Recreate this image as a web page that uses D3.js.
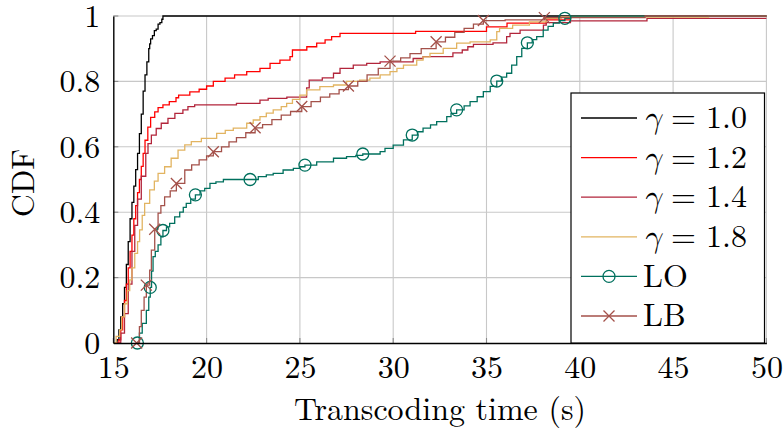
<!DOCTYPE html>
<html>
<head>
<meta charset="utf-8">
<script src="https://cdn.jsdelivr.net/npm/d3@7"></script>
<style>
  html, body { margin: 0; padding: 0; background: #fff; }
  svg { display: block; }
</style>
</head>
<body>
<svg id="chart" width="784" height="432"></svg>
<script>
// Empirical CDFs of transcoding time, as step breakpoints (time in s, cumulative share)
const g10Time = [15.1, 15.2, 15.3, 15.4, 15.5, 15.6, 15.7, 15.8, 15.9, 16.0, 16.1, 16.2, 16.3, 16.4, 16.5, 16.6, 16.7, 16.8, 16.9, 16.95, 17.0, 17.1, 17.2, 17.3, 17.4, 17.5, 17.6, 17.66];
const g10Cdf  = [0, 0.01, 0.04, 0.08, 0.12, 0.17, 0.24, 0.31, 0.38, 0.43, 0.48, 0.53, 0.58, 0.64, 0.7, 0.77, 0.82, 0.86, 0.9, 0.915, 0.93, 0.94, 0.955, 0.96, 0.975, 0.98, 0.99, 1.0];

const g12Time = [15.15, 15.3, 15.4, 15.5, 15.6, 15.7, 15.8, 15.9, 16.0, 16.1, 16.2, 16.3, 16.4, 16.5, 16.6, 16.7, 16.85, 17.0, 17.22, 17.4, 17.66, 18.0, 18.36, 18.5, 19.1, 19.6, 20.0, 20.36, 20.99, 21.5, 22.15, 22.86, 23.4, 23.93, 24.47, 24.6, 25.37, 25.9, 26.35, 26.7, 27.15, 31.2, 35.0, 36.1, 38.2, 39.5];
const g12Cdf  = [0, 0.01, 0.04, 0.08, 0.13, 0.18, 0.23, 0.28, 0.33, 0.38, 0.42, 0.46, 0.5, 0.54, 0.58, 0.62, 0.66, 0.69, 0.707, 0.72, 0.728, 0.738, 0.75, 0.758, 0.768, 0.776, 0.786, 0.8, 0.81, 0.82, 0.83, 0.84, 0.855, 0.865, 0.876, 0.896, 0.906, 0.917, 0.927, 0.937, 0.947, 0.953, 0.967, 0.978, 0.988, 1.0];

const g14Time = [15.2, 15.4, 15.6, 15.8, 16.0, 16.15, 16.3, 16.5, 16.74, 16.86, 17.04, 17.3, 17.57, 17.93, 18.3, 18.73, 19.0, 19.36, 21.6, 22.86, 23.3, 24.3, 25.36, 25.5, 26.2, 26.8, 27.15, 27.86, 28.58, 29.3, 31.07, 31.6, 33.2, 33.7, 34.0, 34.3, 35.35, 36.08, 36.26, 36.8, 38.05, 38.2, 39.5, 43.6];
const g14Cdf  = [0, 0.03, 0.09, 0.18, 0.28, 0.36, 0.44, 0.51, 0.58, 0.61, 0.636, 0.656, 0.672, 0.687, 0.702, 0.713, 0.723, 0.728, 0.733, 0.743, 0.748, 0.752, 0.78, 0.804, 0.811, 0.825, 0.84, 0.85, 0.855, 0.86, 0.87, 0.876, 0.887, 0.896, 0.906, 0.913, 0.918, 0.937, 0.947, 0.957, 0.972, 0.98, 0.985, 0.993];

const g18Time = [15.0, 15.15, 15.34, 15.45, 15.6, 15.75, 15.88, 16.0, 16.15, 16.3, 16.41, 16.55, 16.68, 16.95, 17.2, 17.4, 17.75, 18.1, 18.47, 18.83, 19.18, 19.72, 20.54, 21.0, 21.43, 22.15, 22.5, 22.86, 23.2, 23.57, 24.0, 24.29, 24.6, 25.0, 25.36, 26.07, 26.8, 27.5, 28.2, 28.75, 29.3, 29.83, 30.2, 30.55, 31.26, 31.6, 31.97, 32.68, 33.4, 34.12, 35.2, 35.55, 35.7, 36.4, 37.3, 38.2, 39.0, 46.9];
const g18Cdf  = [0, 0.02, 0.04, 0.08, 0.12, 0.16, 0.193, 0.23, 0.274, 0.31, 0.346, 0.39, 0.427, 0.468, 0.495, 0.519, 0.539, 0.565, 0.59, 0.606, 0.616, 0.626, 0.641, 0.65, 0.657, 0.672, 0.682, 0.692, 0.703, 0.713, 0.723, 0.733, 0.745, 0.758, 0.774, 0.784, 0.789, 0.8, 0.804, 0.81, 0.82, 0.83, 0.84, 0.85, 0.865, 0.875, 0.886, 0.901, 0.917, 0.921, 0.927, 0.952, 0.962, 0.972, 0.982, 0.993, 0.997, 1.0];

const loTime = [16.3, 16.4, 16.55, 16.77, 16.9, 16.98, 17.05, 17.13, 17.25, 17.4, 17.55, 17.66, 17.85, 18.02, 18.29, 18.56, 18.75, 18.91, 19.15, 19.4, 19.65, 19.9, 20.18, 20.5, 20.9, 22.77, 23.2, 23.57, 24.1, 24.65, 25.0, 25.27, 25.9, 26.8, 27.5, 28.0, 28.37, 29.3, 29.56, 30.0, 30.55, 31.02, 31.3, 31.6, 32.0, 32.33, 32.87, 33.1, 33.4, 33.8, 34.12, 34.5, 34.83, 35.2, 35.55, 35.8, 36.08, 36.35, 36.62, 36.89, 37.19, 37.45, 37.69, 38.04, 38.3, 38.58, 38.9, 39.2, 39.5];
const loCdf  = [0, 0.03, 0.06, 0.1, 0.14, 0.17, 0.22, 0.264, 0.28, 0.3, 0.325, 0.344, 0.355, 0.366, 0.386, 0.4, 0.415, 0.427, 0.44, 0.453, 0.465, 0.473, 0.488, 0.493, 0.5, 0.509, 0.514, 0.519, 0.529, 0.534, 0.539, 0.544, 0.554, 0.565, 0.57, 0.574, 0.578, 0.585, 0.595, 0.605, 0.621, 0.636, 0.646, 0.657, 0.667, 0.677, 0.692, 0.702, 0.713, 0.725, 0.738, 0.753, 0.769, 0.785, 0.801, 0.813, 0.825, 0.85, 0.876, 0.901, 0.918, 0.928, 0.937, 0.957, 0.968, 0.978, 0.986, 0.993, 1.0];
const loMarkTime = [16.29, 16.98, 17.66, 19.4, 22.33, 25.27, 28.37, 31.02, 33.4, 35.55, 37.19, 39.2];
const loMarkCdf  = [0, 0.17, 0.344, 0.453, 0.5, 0.544, 0.578, 0.636, 0.713, 0.801, 0.918, 0.993];

const lbTime = [16.25, 16.4, 16.5, 16.65, 16.77, 16.95, 17.04, 17.22, 17.4, 17.55, 17.75, 18.05, 18.38, 18.83, 19.2, 19.6, 20.0, 20.36, 20.8, 21.2, 21.6, 22.1, 22.6, 23.0, 23.5, 24.0, 24.5, 25.1, 25.6, 26.1, 26.6, 27.1, 27.6, 28.1, 28.6, 29.2, 29.83, 30.4, 30.9, 31.5, 32.3, 32.8, 33.3, 33.8, 34.3, 34.83, 36.0, 38.1, 43.5];
const lbCdf  = [0, 0.05, 0.1, 0.14, 0.177, 0.223, 0.284, 0.348, 0.397, 0.42, 0.447, 0.465, 0.488, 0.529, 0.545, 0.56, 0.572, 0.585, 0.6, 0.615, 0.628, 0.643, 0.658, 0.668, 0.683, 0.697, 0.708, 0.723, 0.738, 0.752, 0.762, 0.775, 0.786, 0.8, 0.82, 0.84, 0.862, 0.872, 0.885, 0.9, 0.921, 0.935, 0.95, 0.962, 0.975, 0.986, 0.988, 0.995, 1.0];
const lbMarkTime = [16.25, 16.77, 17.22, 18.38, 20.36, 22.6, 25.1, 27.6, 29.83, 32.3, 34.83, 38.1];
const lbMarkCdf  = [0, 0.177, 0.348, 0.488, 0.585, 0.658, 0.723, 0.786, 0.862, 0.921, 0.986, 0.995];

const xTicks = [15, 20, 25, 30, 35, 40, 45, 50];
const yTicks = [0, 0.2, 0.4, 0.6, 0.8, 1];
const yTickLabels = ["0", "0.2", "0.4", "0.6", "0.8", "1"];

// Series table built from the arrays above
const series = [
  { name: "1.0", gamma: true, t: g10Time, c: g10Cdf, color: "#000000" },
  { name: "1.2", gamma: true, t: g12Time, c: g12Cdf, color: "#ff0000" },
  { name: "1.4", gamma: true, t: g14Time, c: g14Cdf, color: "#b2253b" },
  { name: "1.8", gamma: true, t: g18Time, c: g18Cdf, color: "#e2b461" },
  { name: "LO", gamma: false, t: loTime, c: loCdf, color: "#00705e", mark: "circle", mt: loMarkTime, mc: loMarkCdf },
  { name: "LB", gamma: false, t: lbTime, c: lbCdf, color: "#a4514a", mark: "cross", mt: lbMarkTime, mc: lbMarkCdf }
];

const FONT = '"Latin Modern Roman", "CMU Serif", "Liberation Serif", serif';
const MATHFONT = '"Latin Modern Math", "CMU Serif", "DejaVu Serif", serif';

const svg = d3.select("#chart");
const pLeft = 113.3, pRight = 766.4, pTop = 16, pBottom = 343;
const x = d3.scaleLinear().domain([15, 50]).range([pLeft, pRight]);
const y = d3.scaleLinear().domain([0, 1]).range([pBottom, pTop]);

// grid
const grid = svg.append("g").attr("stroke", "#c8c8c8").attr("stroke-width", 1.1);
grid.selectAll("line.vx").data(xTicks.slice(1)).join("line")
  .attr("x1", d => x(d)).attr("x2", d => x(d)).attr("y1", pTop).attr("y2", pBottom);
grid.selectAll("line.hy").data(yTicks.slice(1)).join("line")
  .attr("x1", pLeft).attr("x2", pRight).attr("y1", d => y(d)).attr("y2", d => y(d));

// inner tick marks
const tk = svg.append("g").attr("stroke", "#8a8a8a").attr("stroke-width", 1.1);
tk.selectAll("line.tx").data(xTicks).join("line")
  .attr("x1", d => x(d)).attr("x2", d => x(d)).attr("y1", pBottom).attr("y2", pBottom - 5);
tk.selectAll("line.ty").data(yTicks).join("line")
  .attr("x1", pLeft).attr("x2", pLeft + 5).attr("y1", d => y(d)).attr("y2", d => y(d));

svg.append("clipPath").attr("id", "plotclip").append("rect")
  .attr("x", pLeft).attr("y", pTop - 8).attr("width", pRight - pLeft).attr("height", pBottom - pTop + 16);

const line = d3.line().x(d => x(d[0])).y(d => y(d[1])).curve(d3.curveStepAfter);
const plot = svg.append("g").attr("clip-path", "url(#plotclip)");

series.forEach(s => {
  const pts = s.t.map((t, i) => [t, s.c[i]]);
  const last = pts[pts.length - 1];
  pts.push([50.5, last[1]]);
  plot.append("path").datum(pts)
    .attr("fill", "none").attr("stroke", s.color).attr("stroke-width", 1.3)
    .attr("d", line);
});

function drawMark(g, kind, cx, cy, color) {
  if (kind === "circle") {
    g.append("circle").attr("cx", cx).attr("cy", cy).attr("r", 6)
      .attr("fill", "none").attr("stroke", color).attr("stroke-width", 1.3);
  } else {
    const r = 5.5;
    g.append("path").attr("d", `M${cx - r},${cy - r}L${cx + r},${cy + r}M${cx - r},${cy + r}L${cx + r},${cy - r}`)
      .attr("stroke", color).attr("stroke-width", 1.3).attr("fill", "none");
  }
}

series.filter(s => s.mark).forEach(s => {
  const g = plot.append("g");
  s.mt.forEach((t, i) => drawMark(g, s.mark, x(t), y(s.mc[i]), s.color));
});

// axes (left and bottom)
const xAxis = d3.axisBottom(x).tickValues(xTicks).tickSize(0).tickPadding(12).tickFormat(d3.format("d"));
const yAxis = d3.axisLeft(y).tickValues(yTicks).tickSize(0).tickPadding(13).tickFormat((d, i) => yTickLabels[i]);

const gx = svg.append("g").attr("transform", `translate(0,${pBottom})`).call(xAxis);
const gy = svg.append("g").attr("transform", `translate(${pLeft},0)`).call(yAxis);
[gx, gy].forEach(g => {
  g.select(".domain").attr("stroke", "#000").attr("stroke-width", 1.4);
  g.selectAll("text").style("font-family", FONT).style("font-size", "32px").attr("fill", "#000");
});
gx.selectAll("text").attr("dy", "0.71em");
gy.selectAll("text").attr("dy", "0.32em");

// axis titles
svg.append("text").attr("x", 440).attr("y", 420).attr("text-anchor", "middle")
  .style("font-family", FONT).style("font-size", "32px").text("Transcoding time (s)");
svg.append("text").attr("transform", "translate(34,183) rotate(-90)").attr("text-anchor", "middle")
  .style("font-family", FONT).style("font-size", "32px").text("CDF");

// legend
const lg = svg.append("g");
lg.append("rect").attr("x", 571).attr("y", 93).attr("width", 193.5).attr("height", 250)
  .attr("fill", "#fff").attr("stroke", "#000").attr("stroke-width", 1.2);
series.forEach((s, i) => {
  const cy = 118 + i * 39.6;
  lg.append("line").attr("x1", 581).attr("x2", 637).attr("y1", cy).attr("y2", cy)
    .attr("stroke", s.color).attr("stroke-width", 1.3);
  if (s.mark) drawMark(lg, s.mark, 609, cy, s.color);
  const t = lg.append("text").attr("y", cy).attr("dy", "0.32em")
    .style("font-family", FONT).style("font-size", "32px");
  if (s.gamma) {
    t.append("tspan").attr("x", 643).style("font-family", MATHFONT).style("font-style", "italic").text("γ");
    t.append("tspan").attr("x", 671).text("=");
    t.append("tspan").attr("x", 706).text(s.name);
  } else {
    t.append("tspan").attr("x", 643).text(s.name);
  }
});
</script>
</body>
</html>
